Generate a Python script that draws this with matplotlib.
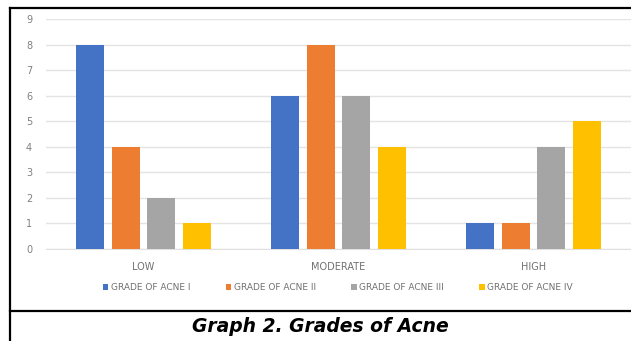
import matplotlib
matplotlib.use("Agg")
import matplotlib.pyplot as plt
import numpy as np
from matplotlib.lines import Line2D
from matplotlib.patches import Patch

categories = ["LOW", "MODERATE", "HIGH"]
series_names = ["GRADE OF ACNE I", "GRADE OF ACNE II", "GRADE OF ACNE III", "GRADE OF ACNE IV"]
grade_i = [8, 6, 1]
grade_ii = [4, 8, 1]
grade_iii = [2, 6, 4]
grade_iv = [1, 4, 5]
colors = ["#4472C4", "#ED7D31", "#A5A5A5", "#FFC000"]
yticks = list(range(0, 10))

W, H = 631, 341
fig = plt.figure(figsize=(W / 100, H / 100), dpi=100)

def fx(px):
    return px / W

def fy(py):
    return 1 - py / H

ax = fig.add_axes([fx(46), fy(249), fx(631) - fx(46), fy(19) - fy(249)])
series = [grade_i, grade_ii, grade_iii, grade_iv]
x = np.arange(len(categories))
step = 0.182
bw = 0.144
for i, (vals, c) in enumerate(zip(series, colors)):
    ax.bar(x + (i - 1.5) * step, vals, width=bw, color=c, zorder=3, label=series_names[i])

ax.set_xlim(-0.5, 2.5)
ax.set_ylim(0, 9)
ax.set_yticks(yticks)
ax.set_yticklabels([str(v) for v in yticks])
ax.yaxis.grid(True, color="#E4E4E4", linewidth=1.0, zorder=0)
ax.set_xticks(x)
ax.set_xticklabels(categories)
for s in ["top", "right", "left"]:
    ax.spines[s].set_visible(False)
ax.spines["bottom"].set_color("#E0E0E0")
ax.tick_params(axis="y", length=0, labelsize=7, labelcolor="#808080", pad=10)
ax.tick_params(axis="x", length=0, labelsize=7, labelcolor="#707070", pad=9)

handles = [Patch(facecolor=c, edgecolor="none") for c in colors]
fig.legend(handles, series_names, loc="center", bbox_to_anchor=(fx(338), fy(288)),
           ncol=4, frameon=False, fontsize=6.5, handlelength=0.6, handleheight=0.6,
           handletextpad=0.3, columnspacing=3.9, labelcolor="#707070")

# frame lines
fig.add_artist(Line2D([fx(10), 1], [fy(8), fy(8)], color="black", linewidth=1.6))
fig.add_artist(Line2D([fx(10), fx(10)], [fy(8), 0], color="black", linewidth=1.6))
fig.add_artist(Line2D([fx(10), 1], [fy(311), fy(311)], color="black", linewidth=1.6))

fig.text(fx(320), fy(327), "Graph 2. Grades of Acne", ha="center", va="center",
         fontsize=13.5, fontweight="bold", fontstyle="italic", color="black")

fig.savefig("out.png", dpi=100)
